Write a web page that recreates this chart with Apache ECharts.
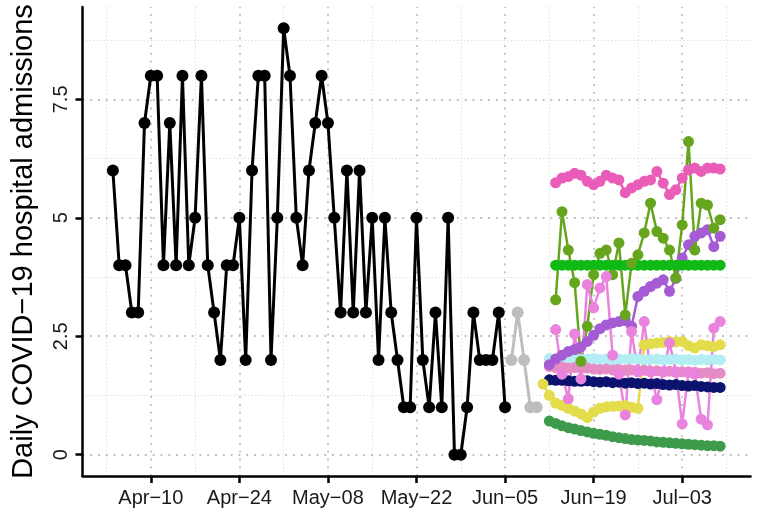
<!DOCTYPE html>
<html>
<head>
<meta charset="utf-8">
<script src="https://cdn.jsdelivr.net/npm/echarts@6.0.0/dist/echarts.min.js"></script>
<style>
  html, body { margin: 0; padding: 0; background: #fff; }
  #myChart { width: 759px; height: 516px; }
</style>
</head>
<body>
<div id="myChart"></div>
<script>
// day 0 = Apr 10 2020
const origin = "2020-04-10";

// x ticks (days from origin) and their labels
const xTickDays = [0, 14, 28, 42, 56, 70, 84];
const xTickLabels = ["Apr\u221210", "Apr\u221224", "May\u221208", "May\u221222", "Jun\u221205", "Jun\u221219", "Jul\u221203"];
const yTicks = [0, 2.5, 5, 7.5];
const yTickLabels = ["0", "2.5", "5", "7.5"];

// observed admissions
const observedStart = "2020-04-04";
const observed = [6, 4, 4, 3, 3, 7, 8, 8, 4, 7, 4, 8, 4, 5, 8, 4, 3, 2, 4, 4, 5, 2, 6, 8, 8, 2, 5, 9, 8, 5, 4, 6, 7, 8, 7,
  5, 3, 6, 3, 6, 3, 5, 2, 5, 3, 2, 1, 1, 5, 2, 1, 3, 1, 5, 0, 0, 1, 3, 2, 2, 2, 3, 1];

// recent (grey) data
const recentStart = "2020-06-06";
const recent = [2, 3, 2, 1, 1];

// forecasts
const yellowStart = "2020-06-11";
const yellow = [1.49, 1.25, 1.09, 1.04, 0.98, 0.92, 0.86, 0.78, 0.90, 0.98, 1.01, 1.02, 1.03, 1.04, 1.00, 0.98,
  2.32, 2.34, 2.36, 2.37, 2.39, 2.38, 2.39, 2.30, 2.25, 2.32, 2.30, 2.28, 2.32];

const purpleStart = "2020-06-12";
const purple = [1.90, 2.02, 2.10, 2.18, 2.22, 2.28, 2.39, 2.52, 2.66, 2.74, 2.78, 2.81, 2.83, 2.71, 3.34, 3.45,
  3.55, 3.62, 3.69, 3.45, 3.72, 4.15, 4.43, 4.61, 4.68, 4.75, 4.39, 4.61];

const darkGreenStart = "2020-06-12";
const darkGreen = [0.71, 0.66, 0.61, 0.57, 0.54, 0.51, 0.48, 0.45, 0.43, 0.41, 0.38, 0.36, 0.34, 0.32, 0.31, 0.30,
  0.29, 0.27, 0.26, 0.25, 0.24, 0.23, 0.22, 0.21, 0.20, 0.19, 0.19, 0.18];

const navyStart = "2020-06-12";
const navy = [1.58, 1.57, 1.57, 1.56, 1.55, 1.55, 1.56, 1.54, 1.53, 1.54, 1.52, 1.53, 1.51, 1.52, 1.50, 1.51,
  1.49, 1.50, 1.48, 1.47, 1.48, 1.46, 1.45, 1.46, 1.44, 1.43, 1.42, 1.42];

const cyanStart = "2020-06-12";
const cyan = [2.03, 2.02, 2.04, 2.02, 2.03, 2.01, 2.02, 2.03, 2.01, 2.02, 2.00, 2.02, 2.01, 2.03, 2.02, 2.00,
  2.01, 2.02, 2.00, 2.01, 2.02, 2.00, 2.01, 1.99, 2.01, 2.00, 2.01, 2.00];

const lightPinkStart = "2020-06-12";
const lightPink = [1.86, 1.84, 1.85, 1.83, 1.84, 1.82, 1.83, 1.81, 1.80, 1.81, 1.79, 1.80, 1.78, 1.79, 1.77, 1.78,
  1.76, 1.77, 1.75, 1.76, 1.74, 1.75, 1.73, 1.74, 1.72, 1.73, 1.71, 1.72];

const hotPinkStart = "2020-06-13";
const hotPink = [5.74, 5.84, 5.87, 5.94, 5.90, 5.77, 5.70, 5.77, 5.90, 5.84, 5.80, 5.53, 5.63, 5.70, 5.77, 5.80,
  5.98, 5.73, 5.49, 5.59, 5.84, 6.01, 6.05, 5.98, 6.05, 6.05, 6.03];

const greenStart = "2020-06-13";
const green = [4.0, 4.0, 4.0, 4.0, 4.0, 4.0, 4.0, 4.0, 4.0, 4.0, 4.0, 4.0, 4.0, 4.0, 4.0, 4.0, 4.0, 4.0, 4.0, 4.0,
  4.0, 4.0, 4.0, 4.0, 4.0, 4.0, 4.0];

const oliveStart = "2020-06-13";
const olive = [3.27, 5.13, 4.32, 3.63, 1.97, 2.71, 3.80, 4.25, 4.32, 3.80, 4.47, 2.95, 4.04, 4.22, 4.68, 5.31,
  4.71, 4.57, 4.32, 3.73, 4.85, 6.61, 4.32, 5.31, 5.27, 4.78, 4.96];

const orchidStart = "2020-06-13";
const orchid = [2.64, 1.70, 1.18, 2.55, 1.60, 3.59, 3.10, 3.52, 3.76, 2.10, 1.70, 0.84, 2.60, 1.75, 2.81, 1.75,
  1.16, 1.75, 2.36, 1.75, 0.65, 1.75, 1.70, 0.75, 0.63, 2.67, 2.81];

// grid lines (days / values)
const xMajorGrid = [0, 14, 28, 42, 56, 70, 84];
const xMinorGrid = [-7, 7, 21, 35, 49, 63, 77, 91];
const yMajorGrid = [0, 2.5, 5, 7.5];
const yMinorGrid = [1.25, 3.75, 6.25, 8.75];

function dayOf(d) {
  return (Date.parse(d) - Date.parse(origin)) / 86400000;
}
function pairs(start, vals) {
  const d0 = dayOf(start);
  return vals.map((v, i) => [d0 + i, v]);
}

const font = "'Liberation Sans', Arial, sans-serif";

function lineSeries(name, start, vals, color, size, width) {
  return {
    name: name,
    type: "line",
    data: pairs(start, vals),
    symbol: "circle",
    symbolSize: size,
    showSymbol: true,
    showAllSymbol: true,
    itemStyle: { color: color },
    lineStyle: { color: color, width: width },
    emphasis: { disabled: true },
    silent: true,
  };
}

const gridLines = [];
xMajorGrid.forEach((v) => gridLines.push({ xAxis: v, lineStyle: { color: "#bdbdbd", width: 1.8, type: [1.8, 6] } }));
xMinorGrid.forEach((v) => gridLines.push({ xAxis: v, lineStyle: { color: "#cfcfcf", width: 0.9, type: [1, 2.6] } }));
yMajorGrid.forEach((v) => gridLines.push({ yAxis: v, lineStyle: { color: "#bdbdbd", width: 1.8, type: [1.8, 6] } }));
yMinorGrid.forEach((v) => gridLines.push({ yAxis: v, lineStyle: { color: "#cfcfcf", width: 0.9, type: [1, 2.6] } }));

let myChart = echarts.init(document.getElementById("myChart"));
myChart.setOption({
  animation: false,
  textStyle: { fontFamily: font },
  grid: { left: 82.5, right: 8.5, top: 7, bottom: 40, containLabel: false },
  xAxis: {
    type: "value",
    min: -10.8,
    max: 94.8,
    splitLine: { show: false },
    axisLine: { show: true, onZero: false, lineStyle: { color: "#000", width: 2.5 } },
    axisTick: { show: true, length: 7, customValues: xTickDays, lineStyle: { color: "#000", width: 2.5 } },
    axisLabel: {
      customValues: xTickDays,
      margin: 12,
      fontSize: 20,
      color: "#1a1a1a",
      fontFamily: font,
      formatter: (v) => xTickLabels[xTickDays.indexOf(v)],
    },
  },
  yAxis: {
    type: "value",
    min: -0.45,
    max: 9.45,
    name: "Daily COVID\u221219 hospital admissions",
    nameLocation: "middle",
    nameGap: 44,
    nameTextStyle: { fontSize: 29, color: "#000", fontFamily: font },
    splitLine: { show: false },
    axisLine: { show: true, onZero: false, lineStyle: { color: "#000", width: 2.5 } },
    axisTick: { show: true, length: 7, customValues: yTicks, lineStyle: { color: "#000", width: 2.5 } },
    axisLabel: {
      customValues: yTicks,
      rotate: 90,
      margin: 11,
      fontSize: 20,
      color: "#1a1a1a",
      fontFamily: font,
      formatter: (v) => yTickLabels[yTicks.indexOf(v)],
    },
  },
  series: [
    {
      name: "grid",
      type: "line",
      data: [],
      silent: true,
      markLine: {
        z: 0,
        silent: true,
        symbol: ["none", "none"],
        label: { show: false },
        emphasis: { disabled: true },
        animation: false,
        data: gridLines,
      },
    },
    lineSeries("observed", observedStart, observed, "#000000", 12, 3),
    lineSeries("recent", recentStart, recent, "#bebebe", 12, 3),
    lineSeries("darkGreen", darkGreenStart, darkGreen, "#3f9b4c", 11, 2.5),
    lineSeries("navy", navyStart, navy, "#0b136e", 11, 2.5),
    lineSeries("cyan", cyanStart, cyan, "#b3eef4", 11, 2.5),
    lineSeries("lightPink", lightPinkStart, lightPink, "#e58cc5", 11, 2.5),
    lineSeries("yellow", yellowStart, yellow, "#e3dc4b", 11, 2.5),
    lineSeries("purple", purpleStart, purple, "#a45bd3", 11, 2.5),
    lineSeries("hotPink", hotPinkStart, hotPink, "#e95db9", 11, 2.5),
    lineSeries("green", greenStart, green, "#0fba14", 11, 2.5),
    lineSeries("olive", oliveStart, olive, "#66a61e", 11, 2.5),
    lineSeries("orchid", orchidStart, orchid, "#ea83dd", 11, 2.5),
  ],
});
</script>
</body>
</html>
